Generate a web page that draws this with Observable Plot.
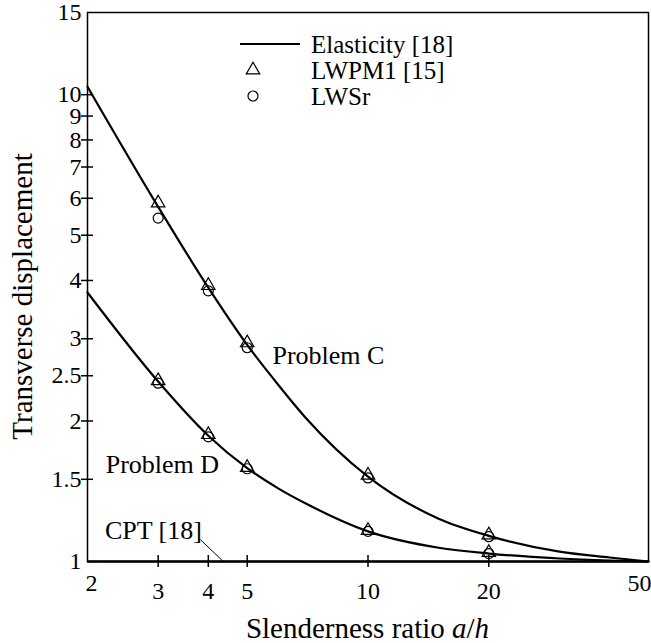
<!DOCTYPE html>
<html>
<head>
<meta charset="utf-8">
<script src="https://cdn.jsdelivr.net/npm/d3@7"></script>
<script src="https://cdn.jsdelivr.net/npm/@observablehq/plot@0.6"></script>
<style>
  html, body { margin: 0; padding: 0; background: white; }
  svg { display: block; }
</style>
</head>
<body>
<div id="chart"></div>
<script>
// ---- data ----
const curveX = [2, 3, 4, 5, 6, 7, 10, 15, 20, 30, 40, 50];
const elasticityC = [10.4, 5.75, 3.86, 2.91, 2.38, 2.03, 1.52, 1.235, 1.135, 1.05, 1.02, 1.0];
const elasticityD = [3.77, 2.43, 1.86, 1.585, 1.431, 1.331, 1.16, 1.07, 1.04, 1.015, 1.005, 1.0];

const markerX = [3, 4, 5, 10, 20];
const lwpm1C = [5.86, 3.90, 2.94, 1.53, 1.14];
const lwsrC  = [5.44, 3.80, 2.87, 1.51, 1.13];
const lwpm1D = [2.44, 1.87, 1.59, 1.165, 1.045];
const lwsrD  = [2.41, 1.85, 1.58, 1.16, 1.04];

const cptValue = 1;

const xTicks = [2, 3, 4, 5, 10, 20, 50];
const xTickMarks = [3, 4, 5, 10, 20];
const yTicks = [1, 1.5, 2, 2.5, 3, 4, 5, 6, 7, 8, 9, 10, 15];
const yTickMarks = [1.5, 2, 2.5, 3, 4, 5, 6, 7, 8, 9, 10];

const legendLabels = ["Elasticity [18]", "LWPM1 [15]", "LWSr"];
const annotations = [
  {label: "Problem C", x: 5.78, y: 2.76},
  {label: "Problem D", x: 2.22, y: 1.61},
  {label: "CPT [18]", x: 2.21, y: 1.165}
];
const cptLeader = [{x: 3.83, y: 1.112}, {x: 4.36, y: 1.0}];
const xTitle = ["Slenderness ratio ", "a", "/", "h"];
const yTitle = "Transverse displacement";

// ---- tables ----
const linesData = [
  ...curveX.map((x, i) => ({x, y: elasticityC[i], problem: "C"})),
  ...curveX.map((x, i) => ({x, y: elasticityD[i], problem: "D"}))
];
const triData = [
  ...markerX.map((x, i) => ({x, y: lwpm1C[i]})),
  ...markerX.map((x, i) => ({x, y: lwpm1D[i]}))
];
const circData = [
  ...markerX.map((x, i) => ({x, y: lwsrC[i]})),
  ...markerX.map((x, i) => ({x, y: lwsrD[i]}))
];

const FONT = "Liberation Serif, Times New Roman, serif";
const FS = 24;      // tick labels
const FS_LEG = 25;  // legend
const FS_ANN = 26;  // annotations
const FS_TITLE = 29; // axis titles
const R = 5;

function legendMark(index, scales, values, dimensions) {
  const g = d3.create("svg:g")
    .attr("font-family", FONT)
    .attr("font-size", FS_LEG)
    .attr("text-anchor", "start")
    .attr("fill", "black");
  const x0 = dimensions.marginLeft + 153;
  const y0 = dimensions.marginTop + 32;
  const rowH = 26;
  g.append("line")
    .attr("x1", x0).attr("x2", x0 + 60)
    .attr("y1", y0).attr("y2", y0)
    .attr("stroke", "black").attr("stroke-width", 2);
  g.append("path")
    .attr("transform", `translate(${x0 + 13},${y0 + rowH})`)
    .attr("d", d3.symbol(d3.symbolTriangle, Math.PI * R * R)())
    .attr("fill", "none").attr("stroke", "black").attr("stroke-width", 1.2);
  g.append("circle")
    .attr("cx", x0 + 13).attr("cy", y0 + 2 * rowH).attr("r", R)
    .attr("fill", "none").attr("stroke", "black").attr("stroke-width", 1.2);
  legendLabels.forEach((t, i) => {
    g.append("text")
      .attr("x", x0 + 71).attr("y", y0 + i * rowH)
      .attr("dy", "0.35em")
      .text(t);
  });
  return g.node();
}

function titlesMark(index, scales, values, dimensions) {
  const g = d3.create("svg:g")
    .attr("font-family", FONT)
    .attr("font-size", FS_TITLE)
    .attr("fill", "black")
    .attr("text-anchor", "middle");
  const cx = (dimensions.marginLeft + dimensions.width - dimensions.marginRight) / 2;
  const t = g.append("text")
    .attr("x", cx)
    .attr("y", dimensions.height - 5);
  xTitle.forEach((s) => {
    const sp = t.append("tspan").text(s);
    if (s === "a" || s === "h") sp.attr("font-style", "italic");
  });
  g.append("text")
    .attr("transform", `translate(${dimensions.marginLeft - 55},${(dimensions.marginTop + dimensions.height - dimensions.marginBottom) / 2 + 10}) rotate(-90)`)
    .text(yTitle);
  return g.node();
}

const chart = Plot.plot({
  width: 651,
  height: 643,
  marginLeft: 87,
  marginRight: 3,
  marginTop: 12,
  marginBottom: 82,
  style: {fontFamily: FONT, fontSize: FS + "px", color: "black", background: "white", overflow: "visible"},
  x: {type: "log", domain: [2, 50]},
  y: {type: "log", domain: [1, 15]},
  marks: [
    Plot.frame({stroke: "black", strokeWidth: 1.5}),
    Plot.axisY({ticks: yTicks, tickSize: 0, tickPadding: 6, tickFormat: d => String(d), fontSize: FS, label: null}),
    Plot.axisY({ticks: yTickMarks, tickSize: 12, dx: 6, tickFormat: () => "", label: null, strokeWidth: 1.5}),
    Plot.axisX({ticks: xTicks.filter(d => d !== 2 && d !== 50), tickSize: 0, tickPadding: 20, tickFormat: d => String(d), fontSize: FS, label: null}),
    Plot.text([xTicks[0]], {x: d => d, frameAnchor: "bottom", dy: 29, dx: 4, text: d => String(d), fontSize: FS}),
    Plot.text([xTicks[xTicks.length - 1]], {x: d => d, frameAnchor: "bottom", dy: 29, dx: -9, text: d => String(d), fontSize: FS}),
    Plot.axisX({ticks: xTickMarks, tickSize: 12, dy: -6, tickFormat: () => "", label: null, strokeWidth: 1.5}),
    Plot.ruleY([cptValue], {stroke: "black", strokeWidth: 2.5}),
    Plot.line(linesData, {x: "x", y: "y", z: "problem", curve: "monotone-x", stroke: "black", strokeWidth: 2.2}),
    Plot.dot(triData, {x: "x", y: "y", symbol: "triangle", r: R, stroke: "black", fill: "none", strokeWidth: 1.2}),
    Plot.dot(circData, {x: "x", y: "y", symbol: "circle", r: R, stroke: "black", fill: "none", strokeWidth: 1.2}),
    Plot.text(annotations, {x: "x", y: "y", text: "label", textAnchor: "start", fontSize: FS_ANN, fill: "black"}),
    Plot.line(cptLeader, {x: "x", y: "y", stroke: "black", strokeWidth: 1}),
    legendMark,
    titlesMark
  ]
});
document.getElementById("chart").appendChild(chart);
</script>
</body>
</html>
